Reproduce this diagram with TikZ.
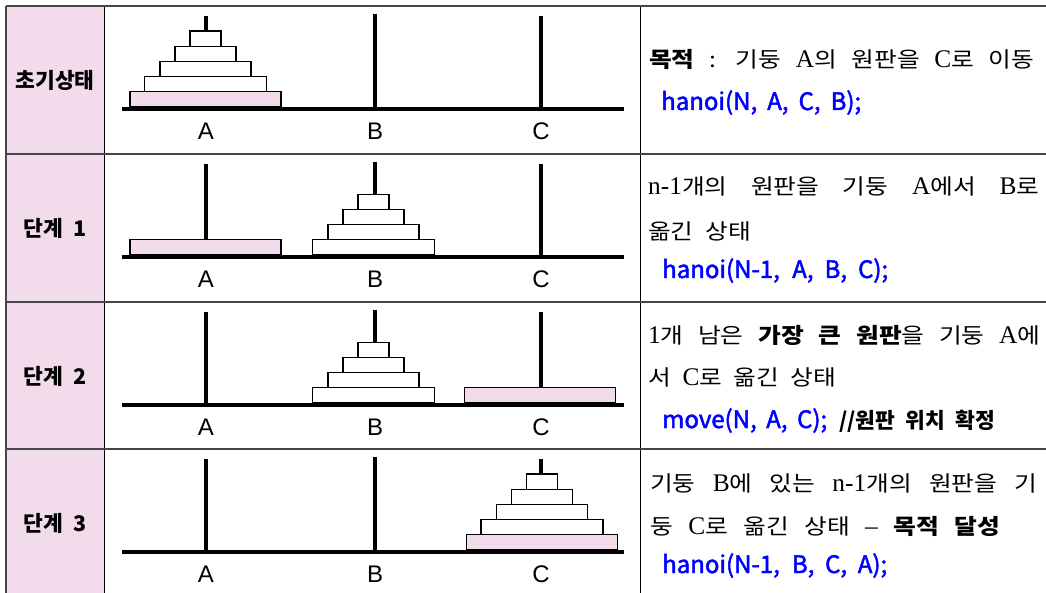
\documentclass[tikz,border=0pt]{standalone}
\usepackage{fontspec}
\setmainfont{Noto Sans CJK KR}
\newfontfamily\bodyfont[FakeStretch=1.15,WordSpace=2.1]{Noto Sans CJK KR}
\newfontfamily\serL[Scale=1.18]{Liberation Serif}
\newfontfamily\abcfont{Liberation Sans}
\newfontfamily\codefont[FakeBold=2]{Noto Sans CJK KR}
\newcommand\sL[1]{{\serL #1}}
\definecolor{pinkcell}{RGB}{242,220,235}
\definecolor{gridgray}{RGB}{70,70,70}
\definecolor{codeblue}{RGB}{0,0,255}
\tikzset{
  peg/.style={line width=3.6pt,black},
  groundline/.style={line width=4.6pt,black},
  diskbox/.style={draw=black,line width=1.3pt},
  pole/.style={font=\abcfont\fontsize{24}{26}\selectfont},
  rowlabel/.style={font=\fontsize{21.5}{24}\selectfont\bfseries},
  body/.style={anchor=base west,inner sep=0pt,font=\bodyfont\fontsize{21.5}{26}\selectfont},
  code/.style={anchor=base west,inner sep=0pt,text=codeblue,font=\codefont\fontsize{24}{26}\selectfont},
}
\newcommand\hdisk[4]{\draw[diskbox,fill=#4] ({#1-#3/2},#2) rectangle ({#1+#3/2},{#2-15.2});}
\newcommand\frameRow[1]{%
  \draw[peg] (206,{#1+10}) -- (206,{#1+103});
  \draw[peg] (375,{#1+8}) -- (375,{#1+103});
  \draw[peg] (541,{#1+10}) -- (541,{#1+103});
  \draw[groundline] (122,{#1+103}) -- (624,{#1+103});
  \node[pole] (pa#1) at (206,{#1+125}) {A};
  \node[pole] (pb#1) at (375,{#1+125}) {B};
  \node[pole] (pc#1) at (541,{#1+125}) {C};
}
\newcommand\stackfive[2]{%
  \hdisk{#1}{#2}{151}{pinkcell}
  \hdisk{#1}{#2-15.2}{122}{white}
  \hdisk{#1}{#2-30.4}{91}{white}
  \hdisk{#1}{#2-45.6}{61}{white}
  \hdisk{#1}{#2-60.8}{31}{white}
}
\newcommand\stackfour[2]{%
  \hdisk{#1}{#2}{122}{white}
  \hdisk{#1}{#2-15.2}{91}{white}
  \hdisk{#1}{#2-30.4}{61}{white}
  \hdisk{#1}{#2-45.6}{31}{white}
}
\begin{document}
\begin{tikzpicture}[x=1pt,y=-1pt]
\useasboundingbox (0,0) rectangle (1046,593);
\begin{scope}
\clip (0,0) rectangle (1046,593);
\fill[pinkcell] (6,6) rectangle (104,600);
\draw[gridgray,line width=1.2pt] (6,6) -- (6,600);
\draw[black,line width=1pt] (104,6) -- (104,600);
\draw[black,line width=1pt] (640,6) -- (640,600);
\draw[gridgray,line width=2.2pt] (6,6) -- (1046,6);
\foreach \yy in {154,302,449}{\draw[gridgray,line width=1.8pt] (6,\yy) -- (1046,\yy);}
\end{scope}
% row labels
\node[rowlabel] (l0) at (55,80) {초기상태};
\node[rowlabel] (l1) at (55,228) {단계\hspace{0.45em}1};
\node[rowlabel] (l2) at (55,376) {단계\hspace{0.45em}2};
\node[rowlabel] (l3) at (55,523) {단계\hspace{0.45em}3};
% row 1
\frameRow{6}
\stackfive{205.5}{107}
% row 2
\frameRow{154}
\hdisk{205.5}{255}{151}{pinkcell}
\stackfour{373.5}{255}
% row 3
\frameRow{302}
\stackfour{373.5}{403}
\hdisk{540}{403}{151}{pinkcell}
% row 4
\frameRow{449}
\stackfive{542}{550}
% texts
\node[body] (t0a) at (649,68) {\makebox[385pt][s]{\textbf{목적} : 기둥 \sL{A}의 원판을 \sL{C}로 이동}};
\node[code] (c0) at (661,110) {\makebox[200pt][s]{hanoi(N, A, C, B);}};
\node[body] (t1a) at (648,195) {\makebox[391pt][s]{\sL{n-1}개의 원판을 기둥 \sL{A}에서 \sL{B}로}};
\node[body] (t1b) at (648,240) {옮긴 상태};
\node[code] (c1) at (662,278) {\makebox[226pt][s]{hanoi(N-1, A, B, C);}};
\node[body] (t2a) at (648,343) {\makebox[392pt][s]{\sL{1}개 남은 \textbf{가장 큰 원판}을 기둥 \sL{A}에}};
\node[body] (t2b) at (648,385) {서 \sL{C}로 옮긴 상태};
\node[code] (c2) at (662,428) {\makebox[165pt][s]{move(N, A, C);}\hspace{12pt}{\rmfamily\color{black}\bfseries\fontsize{21.5}{22}\selectfont\makebox[156pt][s]{//원판 위치 확정}}};
\node[body] (t3a) at (650,491) {\makebox[387pt][s]{기둥 \sL{B}에 있는 \sL{n-1}개의 원판을 기}};
\node[body] (t3b) at (650,534) {\makebox[350pt][s]{둥 \sL{C}로 옮긴 상태 \sL{–} \textbf{목적 달성}}};
\node[code] (c3) at (662,573) {\makebox[225pt][s]{hanoi(N-1, B, C, A);}};
\end{tikzpicture}
\end{document}
